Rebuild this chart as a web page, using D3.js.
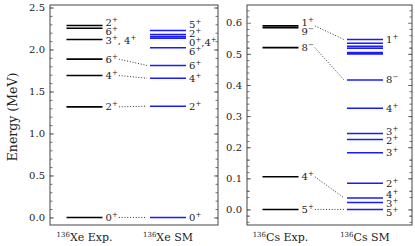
<!DOCTYPE html>
<html>
<head>
<meta charset="utf-8">
<script src="https://cdn.jsdelivr.net/npm/d3@7"></script>
<style>
body { margin: 0; background: #fff; }
text { font-family: "DejaVu Serif", "Liberation Serif", serif; fill: #222; }
</style>
</head>
<body>
<svg id="chart" width="415" height="246"></svg>
<script>
// level schemes: [energy in MeV, spin-parity label]
const xeExpLevels = [[0.000,"0+"],[1.317,"2+"],[1.690,"4+"],[1.885,"6+"],[2.120,"3+, 4+"],[2.253,"6+"],[2.285,"2+"]];
const xeSmLevels = [[0.000,"0+"],[1.325,"2+"],[1.658,"4+"],[1.810,"6+"],[2.020,"6+"],[2.135,"0+,4+"],[2.155,""],[2.178,"2+"],[2.226,"5+"]];
const xeLinks = [[0,0],[1,1],[2,2],[3,3]];

const csExpLevels = [[0.000,"5+"],[0.105,"4+"],[0.520,"8-"],[0.584,"9-"],[0.590,"1+"]];
const csSmLevels = [[0.000,"5+"],[0.0225,"3+"],[0.037,"4+"],[0.084,"2+"],[0.182,"3+"],[0.225,"2+"],[0.244,"3+"],[0.325,"4+"],[0.416,"8-"],[0.500,""],[0.504,""],[0.518,""],[0.524,""],[0.534,""],[0.546,"1+"]];
const csLinks = [[0,0],[1,2],[2,8],[4,14]];

const xeTicks = [0, 0.5, 1.0, 1.5, 2.0, 2.5];
const csTicks = [0, 0.1, 0.2, 0.3, 0.4, 0.5, 0.6];

const svg = d3.select("#chart");
const top_y = 5, bottom_y = 225;
const line_w = 36;
const min_gap = 9;

// renders "3+, 4+" as 3^+, 4^+
function writeLabel(txt, str) {
    var parts = str.split(",");
    var shifted = false;
    parts.forEach((p, i) => {
        var m = p.trim().match(/^(\d+)([+-])$/);
        var sep = i > 0 ? (p[0] == " " ? ", " : ",") : "";
        var t = txt.append("tspan").text(sep + m[1]);
        if(shifted) { t.attr("dy", 4); shifted = false; }
        txt.append("tspan").attr("dy", -4).attr("font-size", 7)
            .text(m[2] == "+" ? "+" : "\u2212");
        shifted = true;
    });
}

// spread label positions so they do not overlap
function spread(ys) {
    var idx = ys.map((d, i) => i).sort((a, b) => ys[b] - ys[a]);
    var out = ys.slice();
    for(var it=0; it<60; it++) {
        for(var k=1; k<idx.length; k++) {
            var lo = idx[k-1], hi = idx[k];
            var gap = out[lo] - out[hi];
            if(gap < min_gap) {
                var d = (min_gap - gap) / 2;
                out[lo] += d; out[hi] -= d;
            }
        }
    }
    return out;
}

function drawPanel(opt) {
    var g = svg.append("g");
    var y = d3.scaleLinear().domain(opt.domain).range([bottom_y, top_y]);
    var x = d3.scalePoint().domain(["exp","sm"]).range([opt.x0 + opt.off, opt.x0 + opt.off + opt.step]);

    // axes: major and minor ticks, inward on both sides
    var minor = d3.range(opt.domain[0], opt.domain[1], opt.minor).map(v => Math.round(v/opt.minor)*opt.minor)
        .filter(v => v >= opt.domain[0] && v <= opt.domain[1]);
    g.append("g").attr("transform", `translate(${opt.x0},0)`)
        .call(d3.axisLeft(y).tickValues(minor).tickSize(-2.5).tickFormat(""));
    g.append("g").attr("transform", `translate(${opt.x1},0)`)
        .call(d3.axisRight(y).tickValues(minor).tickSize(-2.5).tickFormat(""));
    g.append("g").attr("transform", `translate(${opt.x0},0)`)
        .call(d3.axisLeft(y).tickValues(opt.ticks).tickSize(-4).tickPadding(5).tickFormat(d3.format(".1f")));
    g.append("g").attr("transform", `translate(${opt.x1},0)`)
        .call(d3.axisRight(y).tickValues(opt.ticks).tickSize(-4).tickFormat(""));
    g.selectAll(".domain").remove();
    g.selectAll(".tick line").attr("stroke", "#555").attr("stroke-width", 0.8);
    g.selectAll(".tick text").attr("font-size", 10).attr("font-family", "DejaVu Serif").attr("fill", "#333");

    g.append("rect")
        .attr("x", opt.x0).attr("y", top_y)
        .attr("width", opt.x1 - opt.x0).attr("height", bottom_y - top_y)
        .attr("fill", "none").attr("stroke", "#444").attr("stroke-width", 1);

    var cols = [["exp", opt.exp, "#000"], ["sm", opt.sm, "#1a1aff"]];
    var labelNodes = {};
    cols.forEach(([key, levels, color]) => {
        var x0 = x(key);
        g.selectAll("line.lv-" + key)
            .data(levels)
            .enter()
            .append("line")
            .attr("x1", x0).attr("x2", x0 + line_w)
            .attr("y1", d => y(d[0])).attr("y2", d => y(d[0]))
            .attr("stroke", color).attr("stroke-width", 1.6);

        var labeled = levels.map((d, i) => [d, i]).filter(d => d[0][1] != "");
        var ly = spread(labeled.map(d => y(d[0][0])));
        labelNodes[key] = {};
        labeled.forEach((d, k) => {
            var t = g.append("text")
                .attr("x", x0 + line_w + 3)
                .attr("y", ly[k] + 3.5)
                .attr("font-size", 10)
                .attr("fill", "#444");
            writeLabel(t, d[0][1]);
            labelNodes[key][d[1]] = t.node();
        });

        // column title
        var lab = g.append("text")
            .attr("x", x0 + line_w/2).attr("y", 241)
            .attr("text-anchor", "middle").attr("font-size", 11);
        lab.append("tspan").attr("font-size", 7).attr("dy", -4).text(opt.mass);
        lab.append("tspan").attr("dy", 4).text(opt.name + (key == "exp" ? " Exp." : " SM"));
    });

    // dotted connectors between experiment and model
    opt.links.forEach(([a, b]) => {
        var bb = labelNodes.exp[a].getBBox();
        g.append("line")
            .attr("x1", bb.x + bb.width + 1).attr("y1", y(opt.exp[a][0]))
            .attr("x2", x("sm") - 3).attr("y2", y(opt.sm[b][0]))
            .attr("stroke", "#333").attr("stroke-width", 1)
            .attr("stroke-dasharray", "1,1.8");
    });
}

drawPanel({x0: 50, x1: 218, off: 16.5, step: 83.5, domain: [-0.09, 2.53], ticks: xeTicks, minor: 0.1,
    exp: xeExpLevels, sm: xeSmLevels, links: xeLinks, mass: "136", name: "Xe"});
drawPanel({x0: 247, x1: 412, off: 15.5, step: 84.5, domain: [-0.05, 0.657], ticks: csTicks, minor: 0.02,
    exp: csExpLevels, sm: csSmLevels, links: csLinks, mass: "136", name: "Cs"});

svg.append("text")
    .attr("transform", "translate(17,117) rotate(-90)")
    .attr("text-anchor", "middle")
    .attr("font-size", 12.5)
    .text("Energy (MeV)");
</script>
</body>
</html>
